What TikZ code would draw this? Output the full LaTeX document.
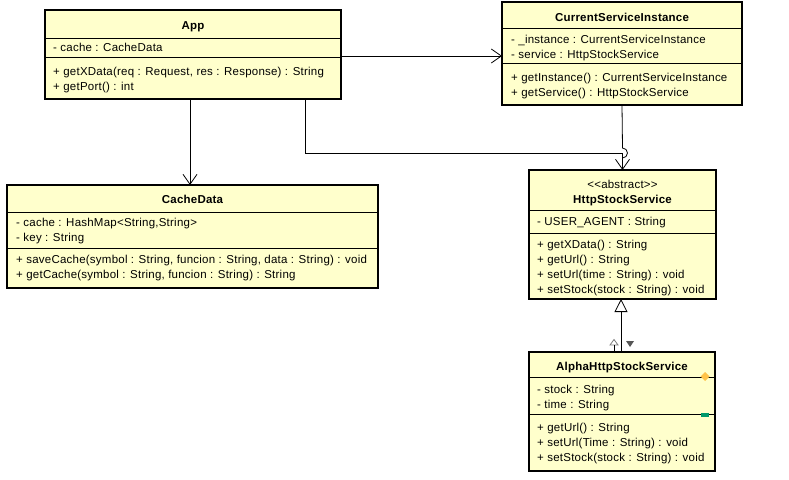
\documentclass[tikz,border=0pt]{standalone}
\usepackage{fontspec}
\setmainfont{Liberation Sans}[LetterSpace=2.0]
\usetikzlibrary{arrows.meta}
\definecolor{umlfill}{HTML}{FFFFCC}
\definecolor{iconorange}{HTML}{FFC34A}
\definecolor{icongreen}{HTML}{00996B}
\definecolor{icongray}{HTML}{808080}
\definecolor{icondark}{HTML}{555555}
\newcommand{\fs}{\fontsize{11.5pt}{13pt}\selectfont}
\tikzset{
  cls/.style={draw=black, line width=1.6pt, fill=umlfill, anchor=north west, inner sep=0pt, outer sep=0pt},
  ttl/.style={font=\bfseries\fs, inner sep=0pt, anchor=base},
  stereo/.style={font=\fs, inner sep=0pt, anchor=base},
  txt/.style={font=\fs, inner sep=0pt, anchor=base west},
  sepline/.style={line width=0.8pt},
  conn/.style={line width=0.8pt},
  assoc/.style={line width=0.8pt, -{Straight Barb[length=10pt,width=14pt,line width=0.8pt]}},
  gen/.style={line width=0.8pt, -{Triangle[open,length=13pt,width=13pt,line width=0.8pt]}}
}
\begin{document}
\begin{tikzpicture}[x=1pt,y=-1pt]
\useasboundingbox (0,0) rectangle (789,479);
\fill[white] (0,0) rectangle (789,479);

% ---- App
\node[cls, minimum width=296pt, minimum height=89pt] (app) at (45,10) {};
\draw[sepline] (45,38) -- (341,38);
\draw[sepline] (45,57) -- (341,57);
\node[ttl] (appT) at (193,29) {App};
\node[txt] (appA1) at (53,51) {- cache : CacheData};
\node[txt] (appM1) at (53,75) {+ getXData(req : Request, res : Response) : String};
\node[txt] (appM2) at (53,90) {+ getPort() : int};

% ---- CurrentServiceInstance
\node[cls, minimum width=240pt, minimum height=103pt] (csi) at (502,2) {};
\draw[sepline] (502,28) -- (742,28);
\draw[sepline] (502,63) -- (742,63);
\node[ttl] (csiT) at (622,21) {CurrentServiceInstance};
\node[txt] (csiA1) at (511,43) {- \_instance : CurrentServiceInstance};
\node[txt] (csiA2) at (511,58) {- service : HttpStockService};
\node[txt] (csiM1) at (511,81) {+ getInstance() : CurrentServiceInstance};
\node[txt] (csiM2) at (511,96) {+ getService() : HttpStockService};

% ---- CacheData
\node[cls, minimum width=371pt, minimum height=103pt] (cache) at (7,185) {};
\draw[sepline] (7,212) -- (378,212);
\draw[sepline] (7,248) -- (378,248);
\node[ttl] (cacheT) at (192.5,203) {CacheData};
\node[txt] (cacheA1) at (16,226) {- cache : HashMap<String,String>};
\node[txt] (cacheA2) at (16,241) {- key : String};
\node[txt] (cacheM1) at (16,263) {+ saveCache(symbol : String, funcion : String, data : String) : void};
\node[txt] (cacheM2) at (16,278) {+ getCache(symbol : String, funcion : String) : String};

% ---- HttpStockService
\node[cls, minimum width=187pt, minimum height=129pt] (http) at (529,170) {};
\draw[sepline] (529,210) -- (716,210);
\draw[sepline] (529,233) -- (716,233);
\node[stereo] (httpS) at (622.5,188) {{<}{<}abstract{>}{>}};
\node[ttl] (httpT) at (622.5,203) {HttpStockService};
\node[txt] (httpA1) at (537,225) {- USER\_AGENT : String};
\node[txt] (httpM1) at (537,248) {+ getXData() : String};
\node[txt] (httpM2) at (537,263) {+ getUrl() : String};
\node[txt] (httpM3) at (537,278) {+ setUrl(time : String) : void};
\node[txt] (httpM4) at (537,293) {+ setStock(stock : String) : void};

% ---- AlphaHttpStockService
\node[cls, minimum width=186pt, minimum height=119pt] (alpha) at (529,352) {};
\draw[sepline] (529,377) -- (715,377);
\draw[sepline] (529,414) -- (715,414);
\node[ttl] (alphaT) at (622,370) {AlphaHttpStockService};
\node[txt] (alphaA1) at (537,393) {- stock : String};
\node[txt] (alphaA2) at (537,408) {- time : String};
\node[txt] (alphaM1) at (537,431) {+ getUrl() : String};
\node[txt] (alphaM2) at (537,446) {+ setUrl(Time : String) : void};
\node[txt] (alphaM3) at (537,461) {+ setStock(stock : String) : void};
\fill[iconorange] (705,372) -- (709.5,376.5) -- (705,381) -- (700.5,376.5) -- cycle;
\fill[icongreen] (701,413) rectangle (709,416.5);

% ---- connectors
\draw[assoc] ([xshift=-3pt]app.south) -- ([xshift=-3pt]app.south |- cache.north);
\draw[assoc] ([yshift=-1.5pt]app.east) -- ([yshift=-1.5pt]app.east -| csi.west);
\draw[assoc] ([xshift=-36pt]app.south east) |- ([yshift=17pt]http.north) -- (http.north);
\draw[conn] (csi.south) -- ([yshift=22pt]http.north) arc[start angle=-90,end angle=90,radius=5] -- ([yshift=8pt]http.north);
\draw[gen] ([xshift=-1pt]alpha.north) -- ([xshift=-1pt]alpha.north |- http.south);

% ---- small connection icons
\draw[icongray, line width=0.8pt, line join=miter] (610,345) -- (618,345) -- (614,339.5) -- cycle;
\draw[black, line width=0.8pt] (614,345) -- (614,352);
\fill[icondark] (626,341) -- (634,341) -- (630,347) -- cycle;
\end{tikzpicture}
\end{document}
